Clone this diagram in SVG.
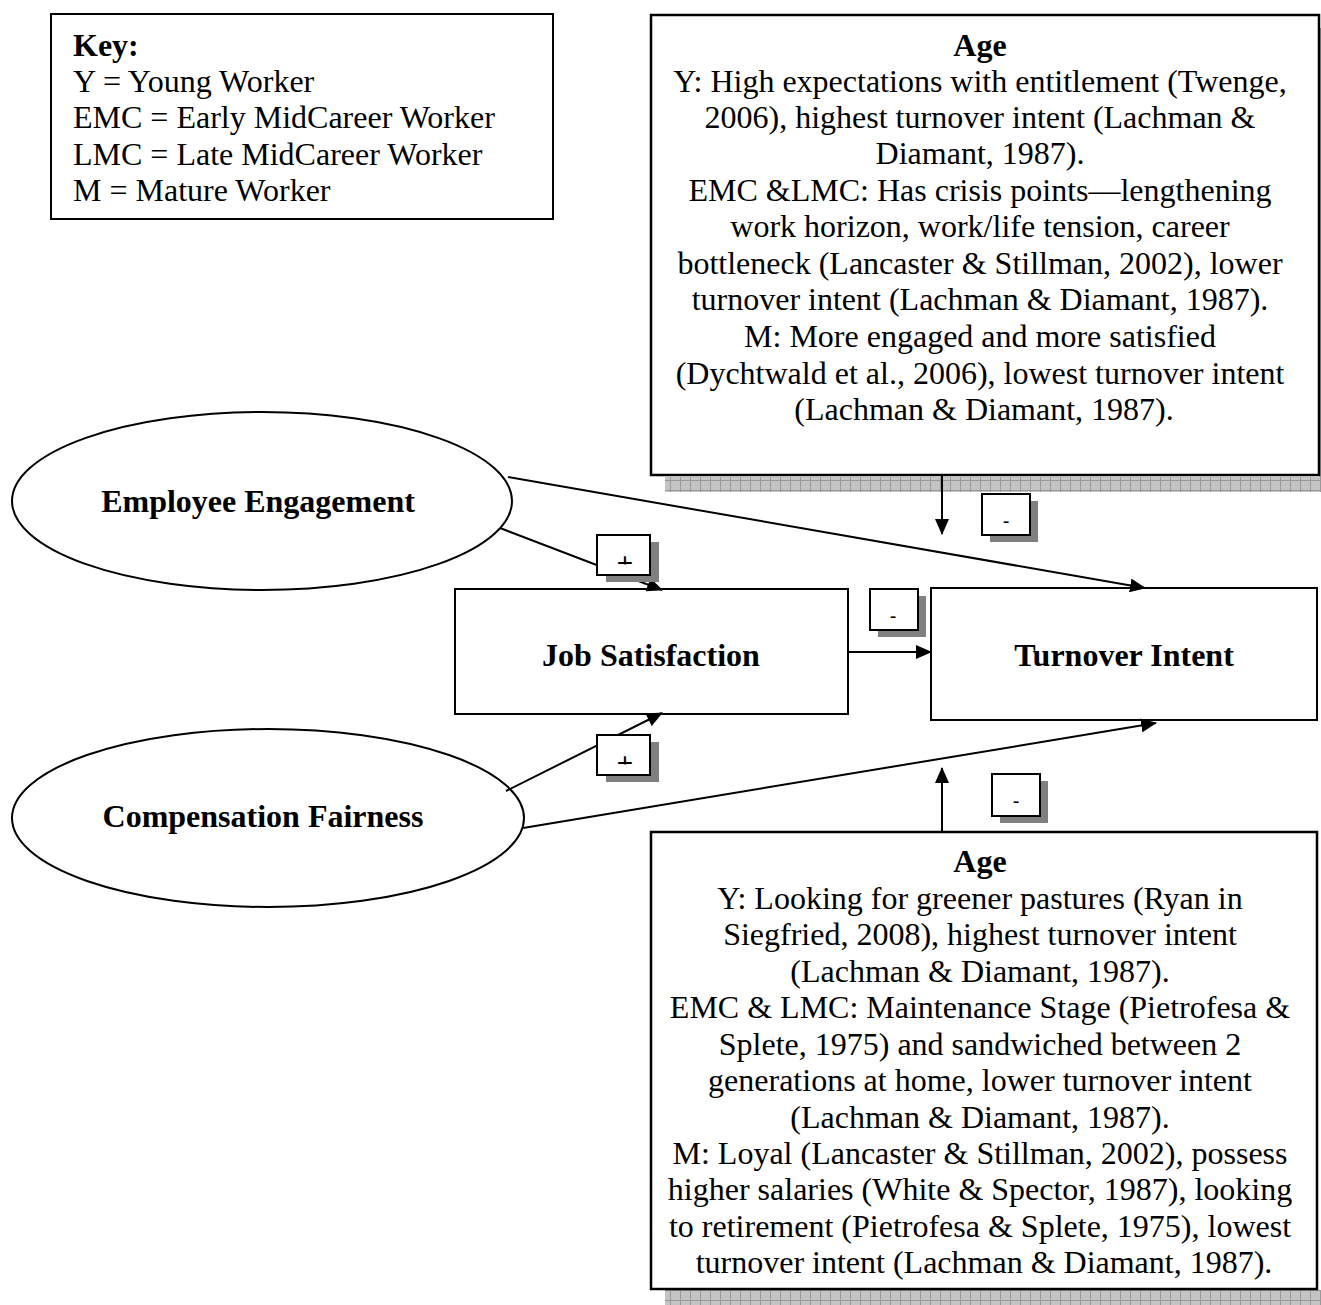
<svg xmlns="http://www.w3.org/2000/svg" width="1321" height="1305" viewBox="0 0 1321 1305">
<style>
.box{fill:#fff;stroke:#000;stroke-width:2}
.thick{fill:#fff;stroke:#000;stroke-width:2.5}
.t{font-family:"Liberation Serif","Times New Roman",serif;font-size:32px;fill:#000}
.b{font-weight:bold}
.c{text-anchor:middle}
.ln{stroke:#000;stroke-width:2;fill:none}
.sh{fill:#808080}
.sm{font-family:"Liberation Sans",Arial,sans-serif;font-size:20px;fill:#000;text-anchor:middle}
.pl{font-family:"Liberation Sans",Arial,sans-serif;font-size:28px;fill:#000;text-anchor:middle}
</style>
<defs>
<pattern id="hatch" width="10" height="10" patternUnits="userSpaceOnUse">
<rect width="10" height="10" fill="#c4c4c4"/>
<path d="M0 0.5H10M0.5 0V10" stroke="#999" stroke-width="1"/>
</pattern>
<marker id="ah" markerWidth="16" markerHeight="14" refX="15" refY="7" orient="auto" markerUnits="userSpaceOnUse">
<path d="M0 0L16 7L0 14Z" fill="#000"/>
</marker>
<clipPath id="c1"><rect x="605" y="556" width="40" height="8.5"/></clipPath>
<clipPath id="c2"><rect x="605" y="756" width="40" height="8.5"/></clipPath>
</defs>

<g id="key">
<rect class="box" x="51" y="14" width="502" height="205"/>
<text class="t b" x="73" y="56">Key:</text>
<text class="t" x="73" y="92">Y = Young Worker</text>
<text class="t" x="73" y="128">EMC = Early MidCareer Worker</text>
<text class="t" x="73" y="165">LMC = Late MidCareer Worker</text>
<text class="t" x="73" y="201">M = Mature Worker</text>
</g>

<g id="age-top">
<rect fill="url(#hatch)" x="665" y="477" width="656" height="15"/>
<rect fill="url(#hatch)" x="1319" y="28" width="2" height="450"/>
<rect class="thick" x="651" y="15" width="668" height="460"/>
<text class="t c">
<tspan class="b" x="984" y="56">Age</tspan>
<tspan x="984" y="92">Y: High expectations with entitlement (Twenge,</tspan>
<tspan x="984" y="128">2006), highest turnover intent (Lachman &amp;</tspan>
<tspan x="984" y="164">Diamant, 1987).</tspan>
<tspan x="984" y="201">EMC &amp;LMC: Has crisis points—lengthening</tspan>
<tspan x="984" y="237">work horizon, work/life tension, career</tspan>
<tspan x="984" y="274">bottleneck (Lancaster &amp; Stillman, 2002), lower</tspan>
<tspan x="984" y="310">turnover intent (Lachman &amp; Diamant, 1987).</tspan>
<tspan x="984" y="347">M: More engaged and more satisfied</tspan>
<tspan x="984" y="384">(Dychtwald et al., 2006), lowest turnover intent</tspan>
<tspan x="984" y="420">(Lachman &amp; Diamant, 1987).</tspan>
</text>
</g>

<g id="employee-engagement">
<ellipse class="box" cx="262" cy="501" rx="250" ry="89"/>
<text class="t b c" x="258" y="512">Employee Engagement</text>
</g>

<g id="compensation-fairness">
<ellipse class="box" cx="268" cy="818" rx="256" ry="89"/>
<text class="t b c" x="263" y="827">Compensation Fairness</text>
</g>

<g id="job-satisfaction">
<rect class="box" x="455" y="589" width="393" height="125"/>
<text class="t b c" x="651" y="666">Job Satisfaction</text>
</g>

<g id="turnover-intent">
<rect class="box" x="931" y="588" width="386" height="132"/>
<text class="t b c" x="1124" y="666">Turnover Intent</text>
</g>

<g id="age-bottom">
<rect fill="url(#hatch)" x="665" y="1290" width="656" height="15"/>
<rect class="thick" x="651" y="832" width="666" height="457"/>
<text class="t c">
<tspan class="b" x="984" y="872">Age</tspan>
<tspan x="984" y="909">Y: Looking for greener pastures (Ryan in</tspan>
<tspan x="984" y="945">Siegfried, 2008), highest turnover intent</tspan>
<tspan x="984" y="982">(Lachman &amp; Diamant, 1987).</tspan>
<tspan x="984" y="1018">EMC &amp; LMC: Maintenance Stage (Pietrofesa &amp;</tspan>
<tspan x="984" y="1055">Splete, 1975) and sandwiched between 2</tspan>
<tspan x="984" y="1091">generations at home, lower turnover intent</tspan>
<tspan x="984" y="1128">(Lachman &amp; Diamant, 1987).</tspan>
<tspan x="984" y="1164">M: Loyal (Lancaster &amp; Stillman, 2002), possess</tspan>
<tspan x="984" y="1200">higher salaries (White &amp; Spector, 1987), looking</tspan>
<tspan x="984" y="1237">to retirement (Pietrofesa &amp; Splete, 1975), lowest</tspan>
<tspan x="984" y="1273">turnover intent (Lachman &amp; Diamant, 1987).</tspan>
</text>
</g>

<g id="connectors">
<line class="ln" x1="508" y1="477" x2="1145" y2="588" marker-end="url(#ah)"/>
<line class="ln" x1="500" y1="528" x2="662" y2="590" marker-end="url(#ah)"/>
<line class="ln" x1="506" y1="791" x2="662" y2="713" marker-end="url(#ah)"/>
<line class="ln" x1="523" y1="828" x2="1156" y2="723" marker-end="url(#ah)"/>
<line class="ln" x1="848" y1="652" x2="931" y2="652" marker-end="url(#ah)"/>
<line class="ln" x1="942" y1="475" x2="942" y2="534" marker-end="url(#ah)"/>
<line class="ln" x1="942" y1="832" x2="942" y2="768" marker-end="url(#ah)"/>
</g>

<g id="sign-ee-js">
<rect class="sh" x="606" y="542" width="53" height="40"/>
<rect class="box" x="597" y="535" width="53" height="40"/>
<text class="pl" x="625" y="572" clip-path="url(#c1)">+</text>
</g>
<g id="sign-cf-js">
<rect class="sh" x="606" y="742" width="53" height="40"/>
<rect class="box" x="597" y="735" width="53" height="40"/>
<text class="pl" x="625" y="772" clip-path="url(#c2)">+</text>
</g>
<g id="sign-js-ti">
<rect class="sh" x="878" y="596" width="48" height="41"/>
<rect class="box" x="870" y="589" width="48" height="41"/>
<text class="sm" x="893" y="623">-</text>
</g>
<g id="sign-age-top">
<rect class="sh" x="990" y="501" width="48" height="41"/>
<rect class="box" x="982" y="494" width="48" height="41"/>
<text class="sm" x="1006" y="528">-</text>
</g>
<g id="sign-age-bottom">
<rect class="sh" x="1000" y="781" width="48" height="42"/>
<rect class="box" x="992" y="774" width="48" height="42"/>
<text class="sm" x="1016" y="808">-</text>
</g>
</svg>
